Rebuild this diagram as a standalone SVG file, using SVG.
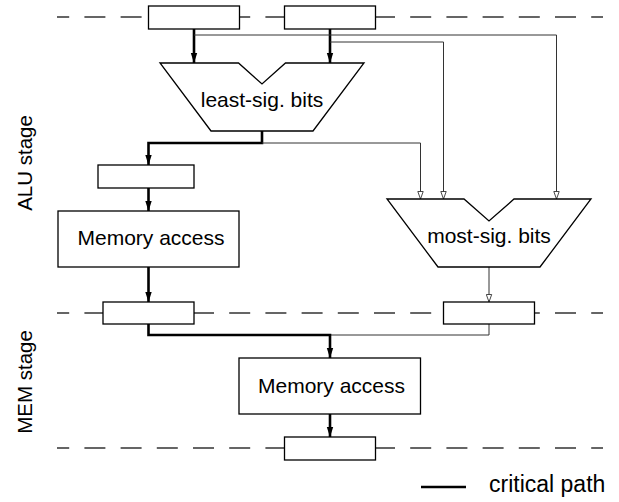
<svg xmlns="http://www.w3.org/2000/svg" width="619" height="502" viewBox="0 0 619 502">
<style>
.dash{stroke:#333;stroke-width:1.5;stroke-dasharray:21 15.2;stroke-dashoffset:8.8;fill:none}
.box{fill:#fff;stroke:#000;stroke-width:1.3}
.thick{fill:none;stroke:#000;stroke-width:2.6}
.thin{fill:none;stroke:#333;stroke-width:1}
.lbl{font-family:"Liberation Sans",Arial,sans-serif;font-size:21px;fill:#000;text-anchor:middle}
.side{font-size:20.5px}
</style>
<defs>
<marker id="ah" markerWidth="10" markerHeight="8" refX="10" refY="4" orient="auto" markerUnits="userSpaceOnUse">
<path d="M0,0.8 L10,4 L0,7.2 Z" fill="#000"/>
</marker>
<marker id="oh" markerWidth="9" markerHeight="7" refX="8" refY="3.5" orient="auto" markerUnits="userSpaceOnUse">
<path d="M0.5,0.8 L8,3.5 L0.5,6.2 Z" fill="#fff" stroke="#333" stroke-width="0.9"/>
</marker>
</defs>
<g id="stage-lines">
<line class="dash" x1="57" y1="17" x2="603" y2="17"/>
<line class="dash" x1="57" y1="313" x2="603" y2="313"/>
<line class="dash" x1="57" y1="448" x2="603" y2="448"/>
</g>
<g id="stage-labels">
<text class="lbl side" transform="translate(31.5,163) rotate(-90)">ALU stage</text>
<text class="lbl side" transform="translate(31.5,382) rotate(-90)">MEM stage</text>
</g>
<g id="connectors">
<path class="thick" d="M194,29 V63" marker-end="url(#ah)"/>
<path class="thick" d="M330,29 V63" marker-end="url(#ah)"/>
<path class="thin" d="M194,35 H556.5 V199" marker-end="url(#oh)"/>
<path class="thin" d="M330,42 H443.5 V199" marker-end="url(#oh)"/>
<path class="thick" d="M262,131 V143 H148.5 V165" marker-end="url(#ah)"/>
<path class="thin" d="M262,143 H420.5 V199" marker-end="url(#oh)"/>
<path class="thick" d="M148.5,188 V211" marker-end="url(#ah)"/>
<path class="thick" d="M148.5,267 V302" marker-end="url(#ah)"/>
<path class="thin" d="M489,267 V302" marker-end="url(#oh)"/>
<path class="thin" d="M489,324 V335 H330"/>
<path class="thick" d="M148.5,324 V335 H330 V358" marker-end="url(#ah)"/>
<path class="thick" d="M330,414 V437" marker-end="url(#ah)"/>
</g>
<g id="reg-a1"><rect class="box" x="148.5" y="6" width="91" height="23"/></g>
<g id="reg-a2"><rect class="box" x="284.5" y="6" width="91" height="23"/></g>
<g id="alu-lsb">
<polygon class="box" points="160,63 238.5,63 262,84 285.5,63 364,63 313,131 211,131"/>
<text class="lbl" x="262" y="107">least-sig. bits</text>
</g>
<g id="reg-lsb"><rect class="box" x="98" y="165" width="96" height="23"/></g>
<g id="mem-alu">
<rect class="box" x="58" y="211" width="181" height="56"/>
<text class="lbl" x="151" y="245">Memory access</text>
</g>
<g id="alu-msb">
<polygon class="box" points="387,199 464,199 489,221 514,199 591,199 540,267 438,267"/>
<text class="lbl" x="489" y="243">most-sig. bits</text>
</g>
<g id="reg-mem-l"><rect class="box" x="103" y="302" width="91" height="22"/></g>
<g id="reg-msb"><rect class="box" x="443.5" y="302" width="91" height="22"/></g>
<g id="mem-mem">
<rect class="box" x="239" y="358" width="181.5" height="56"/>
<text class="lbl" x="331.5" y="393">Memory access</text>
</g>
<g id="reg-out"><rect class="box" x="284.5" y="437" width="91" height="23"/></g>
<g id="legend">
<line x1="421" y1="487" x2="466" y2="487" stroke="#000" stroke-width="2.6"/>
<text x="489" y="492" font-family="Liberation Sans, Arial, sans-serif" font-size="23" fill="#000">critical path</text>
</g>
</svg>
